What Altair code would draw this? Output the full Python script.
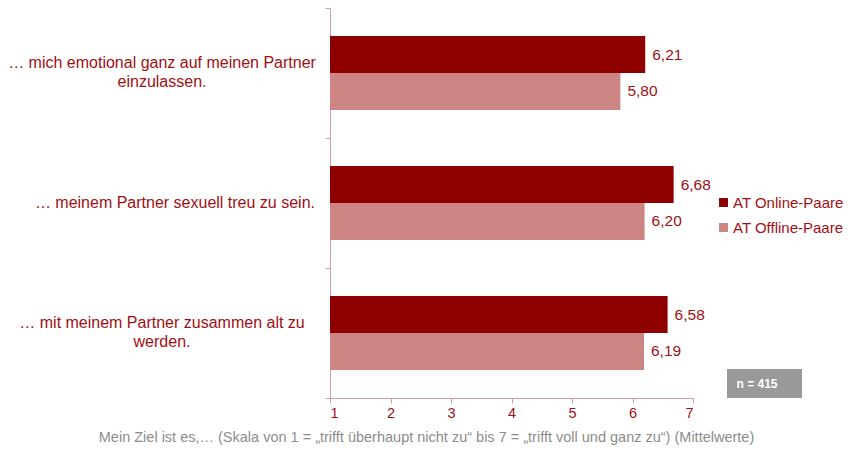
import altair as alt
import pandas as pd

categories = [
    "… mich emotional ganz auf meinen Partner|einzulassen.",
    "… meinem Partner sexuell treu zu sein.",
    "… mit meinem Partner zusammen alt zu|werden.",
]
series = ["AT Online-Paare", "AT Offline-Paare"]
online = [6.21, 6.68, 6.58]
offline = [5.80, 6.20, 6.19]
x_ticks = [1, 2, 3, 4, 5, 6, 7]
note = "n = 415"
footer = "Mein Ziel ist es,… (Skala von 1 = „trifft überhaupt nicht zu“ bis 7 = „trifft voll und ganz zu“) (Mittelwerte)"

rows = []
for c, a, b in zip(categories, online, offline):
    rows.append({"cat": c, "series": series[0], "score": a, "label": f"{a:.2f}".replace(".", ",")})
    rows.append({"cat": c, "series": series[1], "score": b, "label": f"{b:.2f}".replace(".", ",")})
df = pd.DataFrame(rows)
cat_df = pd.DataFrame({"cat": categories, "lines": [c.split("|") for c in categories],
                       "multi": ["|" in c for c in categories]})

DARK = "#8F0000"
LIGHT = "#CD8583"
TEXT = "#A00F14"
AXIS = "#C9A3A3"
FONT = "Liberation Sans"

y_scale = alt.Scale(domain=categories, paddingInner=0, paddingOuter=0)
y_enc = alt.Y(
    "cat:N",
    sort=categories,
    scale=y_scale,
    axis=alt.Axis(
        title=None,
        labels=False,
        tickBand="extent",
        tickSize=5,
        tickColor=AXIS,
        domainColor=AXIS,
        grid=False,
    ),
)
yoff = alt.YOffset("series:N", sort=series,
                   scale=alt.Scale(domain=series, paddingInner=0, paddingOuter=0.757))

x_enc = alt.X(
    "score:Q",
    scale=alt.Scale(domain=[1, 7], zero=False, nice=False),
    axis=alt.Axis(
        title=None,
        values=x_ticks,
        format="d",
        labelColor=TEXT,
        labelFontSize=14.5,
        labelFont=FONT,
        labelPadding=3,
        tickSize=5,
        tickColor=AXIS,
        domainColor=AXIS,
        grid=False,
    ),
)

bars = alt.Chart(df).mark_bar().encode(
    y=y_enc,
    yOffset=yoff,
    x=x_enc,
    x2=alt.datum(1),
    color=alt.Color(
        "series:N",
        sort=series,
        scale=alt.Scale(domain=series, range=[DARK, LIGHT]),
        legend=alt.Legend(
            title=None,
            orient="none",
            legendX=386,
            legendY=187,
            symbolType="square",
            symbolSize=80,
            symbolStrokeWidth=0,
            labelFontSize=15,
            labelFont=FONT,
            labelColor=TEXT,
            rowPadding=9,
            labelOffset=2,
            labelLimit=0,
        ),
    ),
)

labels = alt.Chart(df).mark_text(
    align="left", baseline="middle", dx=7, fontSize=15.5, font=FONT, color=TEXT
).encode(
    y=alt.Y("cat:N", sort=categories),
    yOffset=yoff,
    x=alt.X("score:Q"),
    text="label:N",
)

cat_multi = alt.Chart(cat_df).transform_filter("datum.multi").mark_text(
    align="center", baseline="middle", fontSize=16, font=FONT, color=TEXT, lineHeight=19, dy=-10
).encode(
    y=alt.Y("cat:N", sort=categories),
    x=alt.value(-168),
    text="lines",
)
cat_single = alt.Chart(cat_df).transform_filter("!datum.multi").mark_text(
    align="right", baseline="middle", fontSize=16, font=FONT, color=TEXT
).encode(
    y=alt.Y("cat:N", sort=categories),
    x=alt.value(-15),
    text="lines",
)

note_df = pd.DataFrame({"n": [note]})
box = alt.Chart(note_df).mark_rect(color="#999999").encode(
    x=alt.value(397), x2=alt.value(472), y=alt.value(361), y2=alt.value(390)
)
box_text = alt.Chart(note_df).mark_text(
    color="white", fontWeight="bold", fontSize=12, font=FONT, align="center", baseline="middle"
).encode(x=alt.value(427), y=alt.value(376), text="n:N")

chart = (
    alt.layer(bars, labels, cat_multi, cat_single, box, box_text)
    .properties(
        width=363,
        height=390,
        autosize=alt.AutoSizeParams(type="none"),
        padding={"left": 322, "top": 0, "right": 150, "bottom": 50},
        title=alt.TitleParams(
            footer,
            orient="bottom",
            anchor="middle",
            dx=-85,
            offset=11,
            fontSize=14.5,
            fontWeight="normal",
            font=FONT,
            color="#8C8C8C",
        ),
    )
    .configure_view(stroke=None)
)

chart.save("out.html", embed_options={"renderer": "svg", "actions": False})
